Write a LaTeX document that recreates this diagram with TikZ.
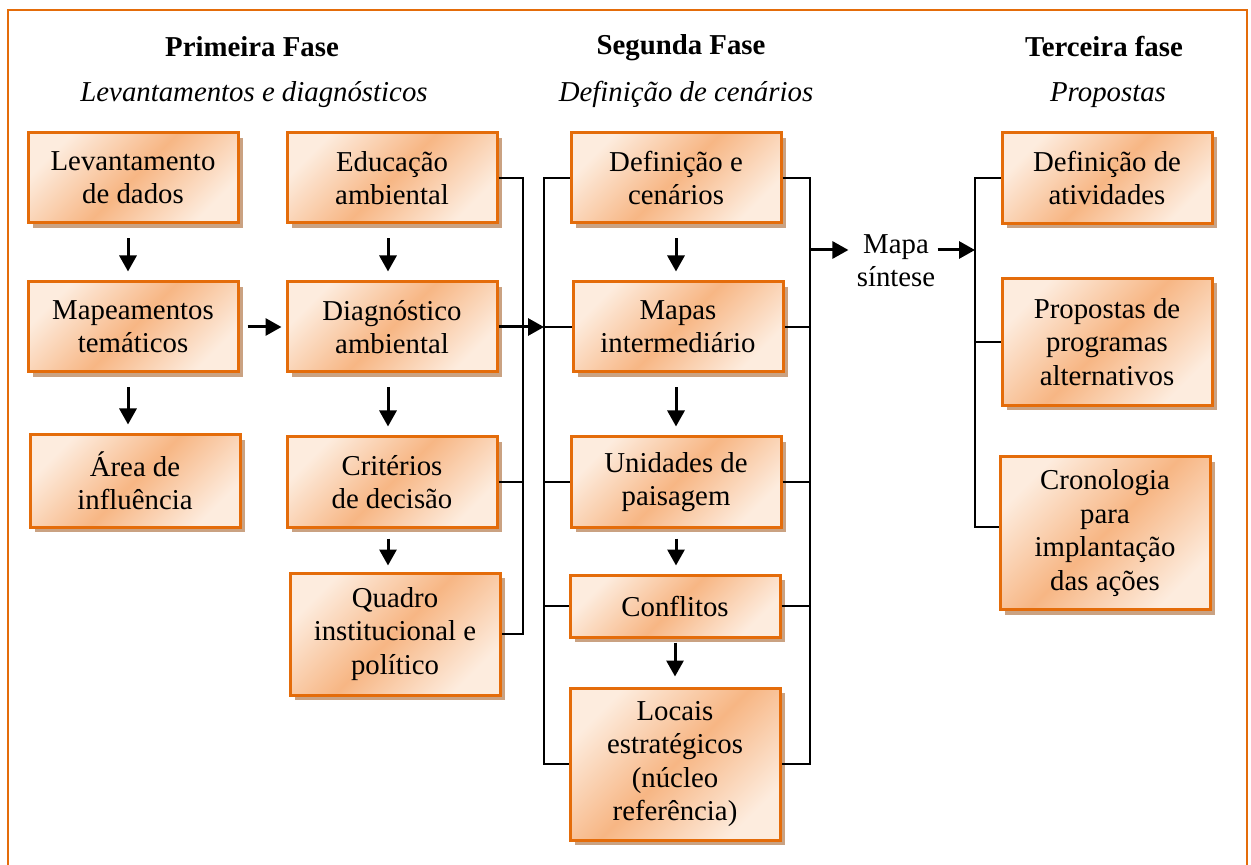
\documentclass[tikz,border=0pt]{standalone}
\usepackage{fontspec}
\setmainfont{Liberation Serif}
\usetikzlibrary{arrows.meta,shadows,calc}
\definecolor{orB}{RGB}{228,108,10}
\definecolor{orL}{RGB}{253,236,222}
\definecolor{orM}{RGB}{247,182,132}
\definecolor{shadowc}{RGB}{202,162,130}
\pgfdeclarehorizontalshading{boxsh}{100bp}{color(0bp)=(orL); color(25bp)=(orL); color(50bp)=(orM); color(75bp)=(orL); color(100bp)=(orL)}
\tikzset{
  box/.style={draw=orB, line width=1.5pt, shading=boxsh, shading angle=-45,
    minimum width=105pt, align=center, inner sep=2pt,
    font=\fontsize{14.4pt}{16.7pt}\selectfont,
    drop shadow={shadow xshift=2.5pt, shadow yshift=-2.5pt, fill=shadowc, opacity=1}},
  head/.style={font=\fontsize{14.4pt}{16.7pt}\selectfont\bfseries, anchor=base},
  sub/.style={font=\fontsize{14.4pt}{16.7pt}\selectfont\itshape, anchor=base},
  plain/.style={font=\fontsize{14.4pt}{16.7pt}\selectfont, align=center, inner sep=0pt},
  brk/.style={line width=0.7pt},
  arr/.style={line width=1.5pt, -{Triangle[length=8pt,width=8.5pt]}},
}
\begin{document}
\begin{tikzpicture}[x=0.5pt,y=-0.5pt]
\useasboundingbox (0,0) rectangle (1251,865);
\draw[orB, line width=1.1pt] (8,880) -- (8,10) -- (1247,10) -- (1247,880);

% headings
\node[head] (h1) at (252,57) {Primeira Fase};
\node[sub]  (s1) at (254,102) {Levantamentos e diagnósticos};
\node[head] (h2) at (681,55) {Segunda Fase};
\node[sub]  (s2) at (686,102) {Definição de cenários};
\node[head] (h3) at (1104,57) {Terceira fase};
\node[sub]  (s3) at (1108,102) {Propostas};

% column 1
\node[box, minimum height=45pt] (lev) at (133,178) {Levantamento\\de dados};
\node[box, minimum height=45pt] (map) at (133,327) {Mapeamentos\\temáticos};
\node[box, minimum height=46pt] (area) at (135,481) {Área de\\influência};
% column 2
\node[box, minimum height=45pt] (edu) at (392,178) {Educação\\ambiental};
\node[box, minimum height=45pt] (diag) at (392,327) {Diagnóstico\\ambiental};
\node[box, minimum height=45pt] (crit) at (392,482) {Critérios\\de decisão};
\node[box, minimum height=61pt] (quad) at (395,634) {Quadro\\institucional e\\político};
% column 3
\node[box, minimum height=45pt] (def) at (676,178) {Definição e\\cenários};
\node[box, minimum height=45pt] (mint) at (678,327) {Mapas\\intermediário};
\node[box, minimum height=45pt] (unid) at (676,482) {Unidades de\\paisagem};
\node[box, minimum height=31pt] (conf) at (675,606) {Conflitos};
\node[box, minimum height=76pt] (loc) at (675,764) {Locais\\estratégicos\\(núcleo\\referência)};
% column 4
\node[box, minimum height=45.5pt] (atv) at (1107,178) {Definição de\\atividades};
\node[box, minimum height=63.5pt] (prop) at (1107,342) {Propostas de\\programas\\alternativos};
\node[box, minimum height=76.5pt] (cron) at (1105,533) {Cronologia\\para\\implantação\\das ações};

% mapa sintese
\node[plain] (mapa) at (896,261) {Mapa\\síntese};

% bracket x-positions
\coordinate (b1) at (523,0);
\coordinate (b2) at (544,0);
\coordinate (b3) at (810,0);
\coordinate (b4) at (975,0);
\coordinate (ms) at (810,250);

% vertical arrows column 1
\draw[arr, shorten <=7pt, shorten >=4.5pt] ([xshift=-2.5pt]lev.south) -- ([xshift=-2.5pt]lev.south |- map.north);
\draw[arr, shorten <=7pt, shorten >=4.5pt] ([xshift=-2.5pt]map.south) -- ([xshift=-2.5pt]map.south |- area.north);
% column 2
\draw[arr, shorten <=7pt, shorten >=4.5pt] ([xshift=-2pt]edu.south) -- ([xshift=-2pt]edu.south |- diag.north);
\draw[arr, shorten <=7pt, shorten >=4.5pt] ([xshift=-2pt]diag.south) -- ([xshift=-2pt]diag.south |- crit.north);
\draw[arr, shorten <=5pt, shorten >=3pt] ([xshift=-2pt]crit.south) -- ([xshift=-2pt]crit.south |- quad.north);
% column 3
\draw[arr, shorten <=7pt, shorten >=4.5pt] (def.south) -- (def.south |- mint.north);
\draw[arr, shorten <=7pt, shorten >=4.5pt] ([xshift=-1pt]mint.south) -- ([xshift=-1pt]mint.south |- unid.north);
\draw[arr, shorten <=5pt, shorten >=4pt] (unid.south) -- (unid.south |- conf.north);
\draw[arr, shorten <=2pt, shorten >=5pt] (conf.south) -- (conf.south |- loc.north);
% horizontal arrow
\draw[arr, shorten <=4pt, shorten >=2pt] (map.east) -- (diag.west);

% bracket 1
\draw[brk] (edu.east) -- (edu.east -| b1) -- (quad.east -| b1) -- (quad.east);
\draw[brk] (crit.east) -- (crit.east -| b1);
\draw[arr] (diag.east) -- (diag.east -| b2);
% bracket 2
\draw[brk] (def.west) -- (def.west -| b2) -- (loc.west -| b2) -- (loc.west);
\draw[brk] (mint.west) -- (mint.west -| b2);
\draw[brk] (unid.west) -- (unid.west -| b2);
\draw[brk] (conf.west) -- (conf.west -| b2);
% bracket 3
\draw[brk] (def.east) -- (def.east -| b3) -- (loc.east -| b3) -- (loc.east);
\draw[brk] (mint.east) -- (mint.east -| b3);
\draw[brk] (unid.east) -- (unid.east -| b3);
\draw[brk] (conf.east) -- (conf.east -| b3);
\draw[arr, shorten >=4pt] (ms) -- (ms -| mapa.west);
\draw[arr, shorten <=1pt] (ms -| mapa.east) -- (ms -| b4);
% bracket 4
\draw[brk] (atv.west) -- (atv.west -| b4) -- ([yshift=3pt]cron.west -| b4) -- ([yshift=3pt]cron.west);
\draw[brk] (prop.west) -- (prop.west -| b4);
\end{tikzpicture}
\end{document}
